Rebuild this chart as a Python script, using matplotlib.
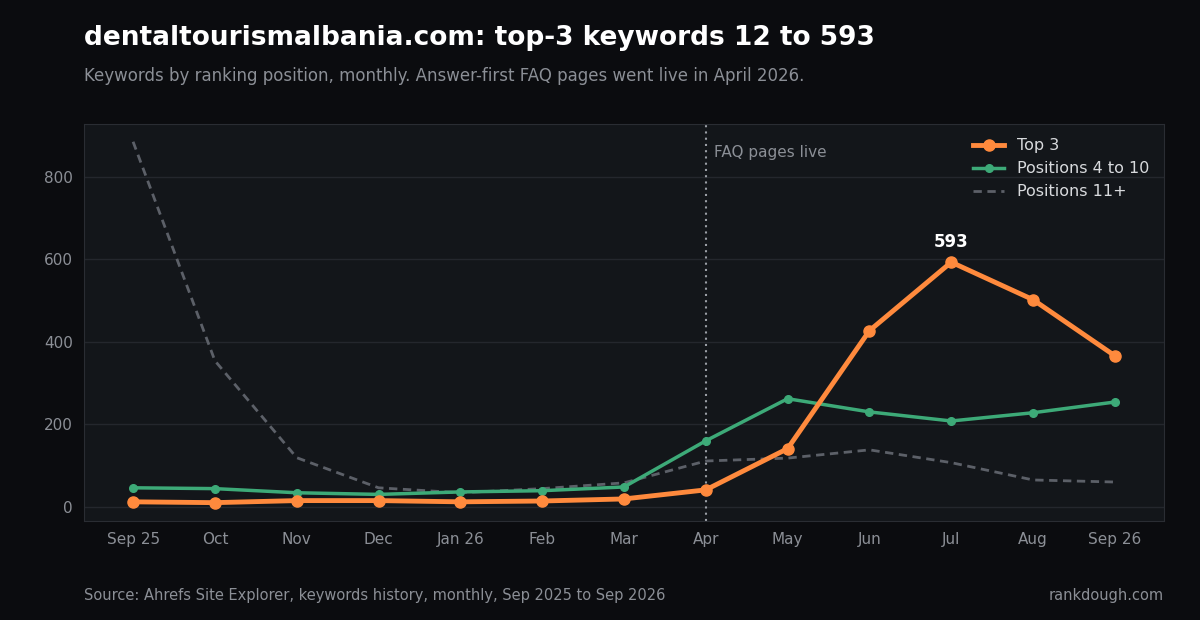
import matplotlib
matplotlib.use("Agg")
import matplotlib.pyplot as plt

months = ["Sep 25", "Oct", "Nov", "Dec", "Jan 26", "Feb", "Mar",
          "Apr", "May", "Jun", "Jul", "Aug", "Sep 26"]
top3 = [12, 10, 15, 15, 12, 14, 19, 41, 141, 427, 593, 502, 366]
pos_4_10 = [46, 44, 34, 30, 36, 39, 48, 160, 262, 230, 208, 228, 254]
pos_11_plus = [885, 354, 119, 46, 34, 44, 58, 111, 118, 138, 107, 65, 60]
launch_month = "Apr"

fig_bg = "#0b0c0f"
ax_bg = "#13161a"
grid_col = "#24272d"
muted = "#8b8f96"

fig = plt.figure(figsize=(12, 6.2), dpi=100, facecolor=fig_bg)
ax = fig.add_axes([0.07, 0.16, 0.9, 0.64])
ax.set_facecolor(ax_bg)

x = list(range(len(months)))
ax.plot(x, pos_11_plus, color="#5c6068", lw=2, ls=(0, (3, 2)), label="Positions 11+", zorder=2)
ax.plot(x, pos_4_10, color="#3daa78", lw=2.5, marker="o", ms=5.5, label="Positions 4 to 10", zorder=3)
ax.plot(x, top3, color="#ff8a3d", lw=3.5, marker="o", ms=8, label="Top 3", zorder=4)

# launch marker
lx = months.index(launch_month)
ax.axvline(lx, color="#9a9ea5", lw=1.5, ls=(0, (1, 2)), zorder=1)
ax.text(lx + 0.1, 860, "FAQ pages live", color=muted, fontsize=11, va="center")

peak = top3.index(max(top3))
ax.annotate(str(max(top3)), (peak, max(top3)), xytext=(0, 8), textcoords="offset points",
            ha="center", va="bottom", color="white", fontsize=12, fontweight="bold")

ax.set_xlim(-0.6, 12.6)
ax.set_ylim(-34, 928)
ax.set_xticks(x)
ax.set_xticklabels(months)
ax.set_yticks([0, 200, 400, 600, 800])
ax.tick_params(colors=muted, labelsize=11, length=0, pad=8)
ax.grid(axis="y", color=grid_col, lw=1)
ax.set_axisbelow(True)
for s in ax.spines.values():
    s.set_color("#2a2d33")

h, l = ax.get_legend_handles_labels()
ax.legend(h[::-1], l[::-1], loc="upper right", frameon=False, fontsize=11.5,
          labelcolor="#d8dadd", handlelength=2.0)

fig.text(0.07, 0.938, "dentaltourismalbania.com: top-3 keywords 12 to 593",
         color="white", fontsize=19, fontweight="bold", va="center")
fig.text(0.07, 0.878, "Keywords by ranking position, monthly. Answer-first FAQ pages went live in April 2026.",
         color=muted, fontsize=12, va="center")
fig.text(0.07, 0.039, "Source: Ahrefs Site Explorer, keywords history, monthly, Sep 2025 to Sep 2026",
         color=muted, fontsize=10.5, va="center")
fig.text(0.97, 0.039, "rankdough.com", color=muted, fontsize=10.5, va="center", ha="right")

fig.savefig("out.png", facecolor=fig_bg)
